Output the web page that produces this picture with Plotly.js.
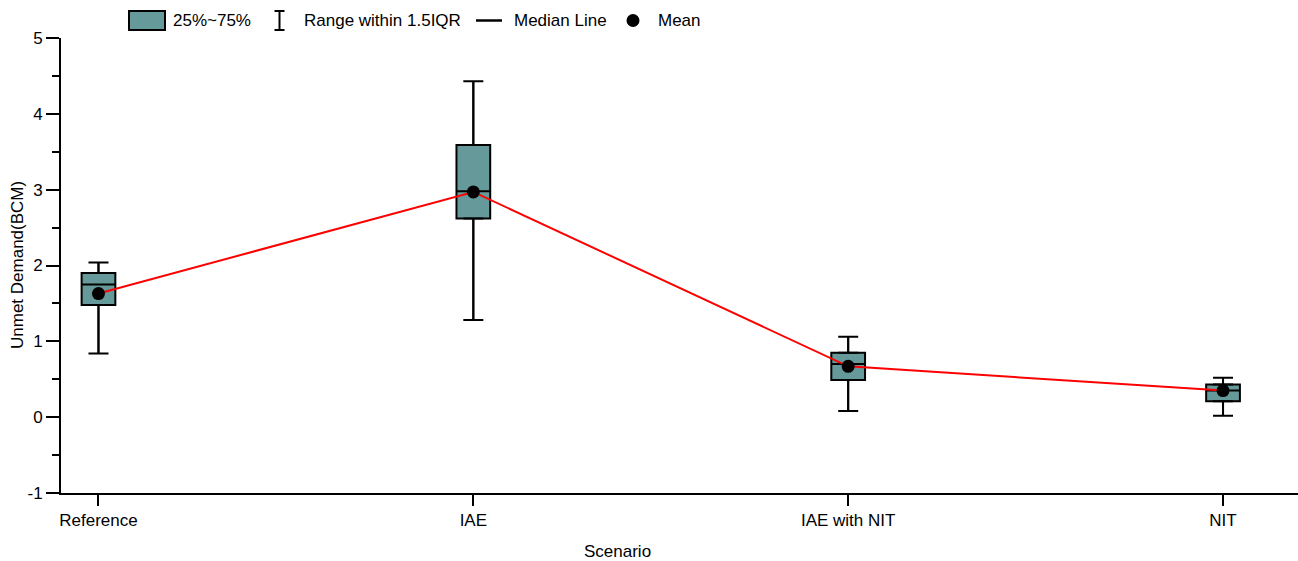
<!DOCTYPE html>
<html>
<head>
<meta charset="utf-8">
<script src="https://cdn.plot.ly/plotly-3.0.1.min.js"></script>
<style>
  html, body { margin: 0; padding: 0; background: #fff; }
  #chart { width: 1298px; height: 561px; }
</style>
</head>
<body>
<div id="chart"></div>
<script>
// Unmet demand (BCM) per scenario: box statistics and means
const scenarios    = ["Reference", "IAE", "IAE with NIT", "NIT"];
const lowerWhisker = [0.84, 1.28, 0.08, 0.02];
const q1           = [1.48, 2.62, 0.49, 0.21];
const median       = [1.75, 2.98, 0.70, 0.35];
const q3           = [1.90, 3.59, 0.85, 0.43];
const upperWhisker = [2.04, 4.43, 1.06, 0.52];
const meanValue    = [1.63, 2.97, 0.67, 0.35];

// y-axis ticks (labels use a plain hyphen for negatives)
const yTickValues = [-1, 0, 1, 2, 3, 4, 5];
const yTickLabels = ["-1", "0", "1", "2", "3", "4", "5"];

// Plot-area geometry (px)
const W = 1298, H = 561;
const ML = 61, MR = 0, MT = 38, MB = 68;
const PW = W - ML - MR, PH = H - MT - MB;
const px = p => (p - ML) / PW;          // pixel x -> paper x
const py = p => (H - MB - p) / PH;      // pixel y -> paper y

const FONT = "Liberation Sans, Arial, sans-serif";
const BOX_FILL = "#669999";

const traces = [
  {
    type: "box",
    name: "25%~75%",
    x: scenarios,
    q1: q1,
    median: median,
    q3: q3,
    lowerfence: lowerWhisker,
    upperfence: upperWhisker,
    width: 0.09,
    fillcolor: BOX_FILL,
    line: { color: "#000", width: 2 },
    whiskerwidth: 0,
    hoverinfo: "skip",
    showlegend: false
  },
  // upper whiskers with caps
  {
    type: "scatter",
    mode: "markers",
    x: scenarios,
    y: upperWhisker,
    marker: { size: 0, opacity: 0 },
    error_y: {
      type: "data", symmetric: false,
      array: upperWhisker.map(() => 0),
      arrayminus: upperWhisker.map((v, i) => v - q3[i]),
      color: "#000", thickness: 2, width: 10
    },
    hoverinfo: "skip", showlegend: false
  },
  // lower whiskers with caps
  {
    type: "scatter",
    mode: "markers",
    x: scenarios,
    y: lowerWhisker,
    marker: { size: 0, opacity: 0 },
    error_y: {
      type: "data", symmetric: false,
      array: lowerWhisker.map((v, i) => q1[i] - v),
      arrayminus: lowerWhisker.map(() => 0),
      color: "#000", thickness: 2, width: 10
    },
    hoverinfo: "skip", showlegend: false
  },
  // line through the means
  {
    type: "scatter",
    mode: "lines",
    x: scenarios,
    y: meanValue,
    line: { color: "#ff0000", width: 2 },
    hoverinfo: "skip", showlegend: false
  },
  // mean markers
  {
    type: "scatter",
    mode: "markers",
    name: "Mean",
    x: scenarios,
    y: meanValue,
    marker: { color: "#000", size: 13, symbol: "circle" },
    showlegend: false
  }
];

// Legend row drawn above the plot
const LY = 20.5;
const legendShapes = [
  { type: "rect", xref: "paper", yref: "paper",
    x0: px(129), x1: px(165), y0: py(30), y1: py(11),
    fillcolor: BOX_FILL, line: { color: "#000", width: 2 } },
  { type: "line", xref: "paper", yref: "paper",
    x0: px(279.5), x1: px(279.5), y0: py(30), y1: py(11),
    line: { color: "#000", width: 2 } },
  { type: "line", xref: "paper", yref: "paper",
    x0: px(274.5), x1: px(284.5), y0: py(11), y1: py(11),
    line: { color: "#000", width: 2 } },
  { type: "line", xref: "paper", yref: "paper",
    x0: px(274.5), x1: px(284.5), y0: py(30), y1: py(30),
    line: { color: "#000", width: 2 } },
  { type: "line", xref: "paper", yref: "paper",
    x0: px(476), x1: px(502), y0: py(LY), y1: py(LY),
    line: { color: "#000", width: 2.5 } },
  { type: "circle", xref: "paper", yref: "paper",
    x0: px(626.5), x1: px(639.5), y0: py(LY + 6.5), y1: py(LY - 6.5),
    fillcolor: "#000", line: { color: "#000", width: 0 } }
];

const legendText = [
  ["25%~75%", 171],
  ["Range within 1.5IQR", 302],
  ["Median Line", 512],
  ["Mean", 656]
].map(([t, x]) => ({
  text: t, xref: "paper", yref: "paper",
  x: px(x), y: py(LY), xanchor: "left", yanchor: "middle",
  showarrow: false, font: { family: FONT, size: 17, color: "#000" }
}));

const layout = {
  width: W, height: H,
  margin: { l: ML, r: MR, t: MT, b: MB, pad: 0 },
  paper_bgcolor: "#fff",
  plot_bgcolor: "#fff",
  font: { family: FONT, size: 17, color: "#000" },
  showlegend: false,
  xaxis: {
    type: "category",
    range: [-0.1, 3.2],
    showline: true, linecolor: "#000", linewidth: 2,
    ticks: "outside", ticklen: 11, tickwidth: 2, tickcolor: "#000",
    showgrid: false, zeroline: false,
    tickfont: { family: FONT, size: 17 },
    fixedrange: true
  },
  yaxis: {
    range: [-1, 5],
    tickmode: "array",
    tickvals: yTickValues,
    ticktext: yTickLabels,
    showline: true, linecolor: "#000", linewidth: 2,
    ticks: "outside", ticklen: 13, tickwidth: 2, tickcolor: "#000",
    minor: { dtick: 0.5, ticks: "outside", ticklen: 7, tickwidth: 2, tickcolor: "#000", showgrid: false },
    showgrid: false, zeroline: false,
    tickfont: { family: FONT, size: 17 },
    fixedrange: true
  },
  shapes: legendShapes,
  annotations: legendText.concat([
    { text: "Scenario", xref: "paper", yref: "paper",
      x: px(617), y: py(551), xanchor: "center", yanchor: "middle",
      showarrow: false, font: { family: FONT, size: 17, color: "#000" } },
    { text: "Unmet Demand(BCM)", xref: "paper", yref: "paper",
      x: px(17), y: py(265), xanchor: "center", yanchor: "middle",
      textangle: -90,
      showarrow: false, font: { family: FONT, size: 17, color: "#000" } }
  ])
};

Plotly.newPlot("chart", traces, layout, { displayModeBar: false, staticPlot: true });
</script>
</body>
</html>
